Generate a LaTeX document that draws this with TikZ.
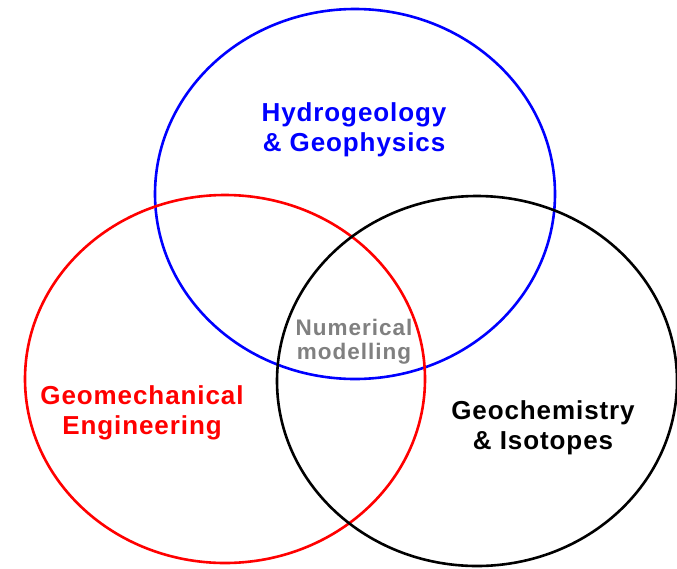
\documentclass[tikz,border=0pt]{standalone}
\usepackage{fontspec}
\setmainfont{Liberation Sans}
\definecolor{labelgray}{RGB}{128,128,128}
\tikzset{
  field/.style={line width=2.6pt},
  fieldlabel/.style={align=center,font=\fontsize{26}{30}\selectfont\bfseries\addfontfeatures{LetterSpace=3.5}},
}
\begin{document}
\begin{tikzpicture}[x=1pt,y=-1pt]
\useasboundingbox (0,0) rectangle (677,568);
\draw[field,blue] (355,194) ellipse [x radius=200,y radius=185];
\draw[field,red] (225,379) ellipse [x radius=200,y radius=184];
\draw[field,black] (477,381) ellipse [x radius=200,y radius=185];
\node[fieldlabel,text=blue] (hydro) at (354,130) {Hydrogeology\\\& Geophysics};
\node[fieldlabel,text=red] (geomech) at (142,413) {Geomechanical\\Engineering};
\node[fieldlabel,text=black] (geochem) at (543,428) {Geochemistry\\\& Isotopes};
\node[align=center,text=labelgray,font=\fontsize{22.5}{24}\selectfont\bfseries\addfontfeatures{LetterSpace=4.5}] (numeric) at (354,342) {Numerical\\modelling};
\end{tikzpicture}
\end{document}
